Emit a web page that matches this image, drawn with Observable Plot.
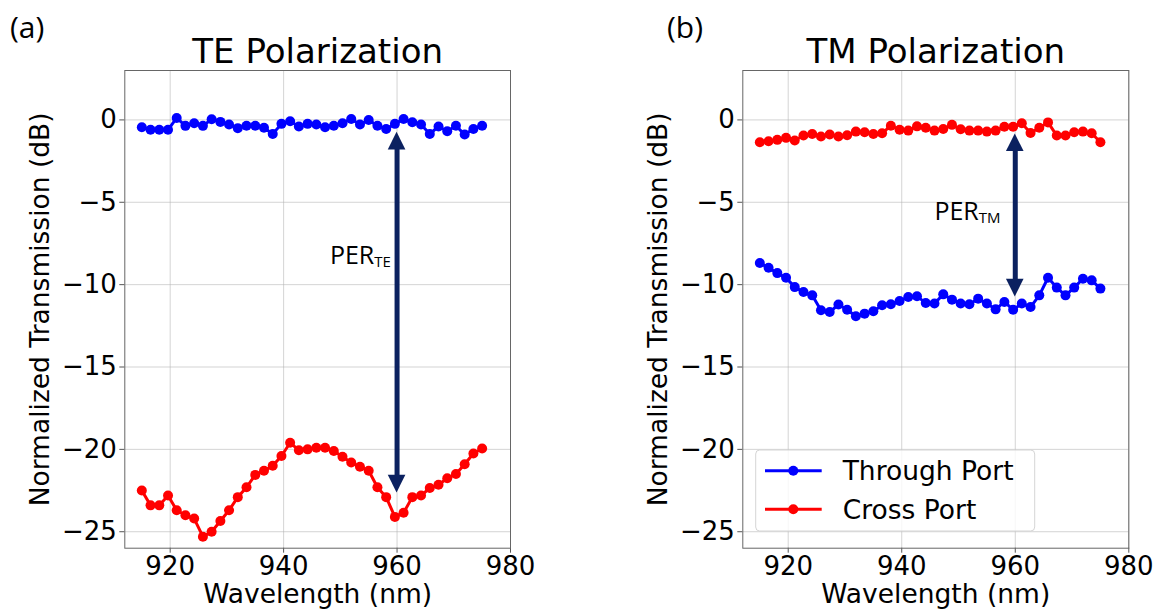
<!DOCTYPE html>
<html><head><meta charset="utf-8">
<script src="https://cdn.jsdelivr.net/npm/d3@7"></script>
<script src="https://cdn.jsdelivr.net/npm/@observablehq/plot@0.6"></script>
<style>
body{margin:0;background:#fff;}
#wrap{position:relative;width:1157px;height:611px;overflow:hidden;background:#fff;}
#wrap svg{position:absolute;top:0;overflow:visible;}
</style></head><body><div id="wrap"></div>
<script>
// ---- data ----
const wavelength = [915, 916.54, 918.08, 919.62, 921.15, 922.69, 924.23, 925.77, 927.31, 928.85,
  930.38, 931.92, 933.46, 935, 936.54, 938.08, 939.62, 941.15, 942.69, 944.23,
  945.77, 947.31, 948.85, 950.38, 951.92, 953.46, 955, 956.54, 958.08, 959.62,
  961.15, 962.69, 964.23, 965.77, 967.31, 968.85, 970.38, 971.92, 973.46, 975];
const teThrough = [-0.45, -0.6, -0.6, -0.6, 0.12, -0.36, -0.2, -0.36, 0.04, -0.12,
  -0.28, -0.5, -0.35, -0.35, -0.48, -0.85, -0.24, -0.08, -0.4, -0.24,
  -0.28, -0.45, -0.35, -0.2, 0.06, -0.28, 0.0, -0.35, -0.55, -0.24,
  0.06, -0.14, -0.28, -0.85, -0.4, -0.69, -0.35, -0.89, -0.55, -0.35];
const teCross = [-22.5, -23.4, -23.4, -22.8, -23.7, -24.0, -24.2, -25.3, -25.0, -24.35,
  -23.7, -22.9, -22.3, -21.55, -21.3, -21.0, -20.4, -19.6, -20.05, -20.0,
  -19.9, -19.9, -20.1, -20.45, -20.8, -21.05, -21.3, -22.3, -22.9, -24.1,
  -23.85, -22.9, -22.8, -22.35, -22.15, -21.75, -21.5, -20.9, -20.25, -19.95];
const tmThrough = [-8.69, -8.97, -9.3, -9.58, -10.15, -10.45, -10.65, -11.56, -11.66, -11.21,
  -11.52, -11.92, -11.76, -11.62, -11.25, -11.19, -10.99, -10.75, -10.71, -11.11,
  -11.15, -10.59, -10.91, -11.15, -11.19, -10.85, -11.15, -11.5, -11.05, -11.52,
  -11.15, -11.36, -10.65, -9.58, -10.18, -10.65, -10.18, -9.64, -9.74, -10.24];
const tmCross = [-1.36, -1.3, -1.21, -1.09, -1.25, -0.95, -0.85, -1.01, -0.89, -1.01,
  -0.93, -0.71, -0.75, -0.85, -0.81, -0.35, -0.6, -0.65, -0.39, -0.48,
  -0.65, -0.55, -0.3, -0.57, -0.65, -0.65, -0.71, -0.65, -0.41, -0.41,
  -0.2, -0.79, -0.48, -0.15, -0.95, -0.95, -0.75, -0.71, -0.81, -1.36];
const xTicks = [920, 940, 960, 980];
const yTicks = [0, -5, -10, -15, -20, -25];
const panelTitles = ["TE Polarization", "TM Polarization"];
const panelTags = ["(a)", "(b)"];
const seriesNames = ["Through Port", "Cross Port"];
const seriesColors = ["#0000ff", "#ff0000"];
const perLabels = [["PER", "TE"], ["PER", "TM"]];
const perArrows = [{x: 960, y1: -0.75, y2: -22.65}, {x: 960, y1: -0.85, y2: -10.75}];
const perTexts = [{x: 959, y: -8.8}, {x: 957.5, y: -6.1}];
const xLabel = "Wavelength (nm)";
const yLabel = "Normalized Transmission (dB)";

const FONT = "'DejaVu Sans', sans-serif";
const ARROW = "#0b2160";

function panel(idx, through, cross, W, ml, mr, left, withLegend) {
  const rows = s => wavelength.map((w, k) => ({w, v: s[k]}));
  const thr = rows(through), crs = rows(cross);
  const plot = Plot.plot({
    width: W, height: 611,
    marginLeft: ml, marginRight: mr, marginTop: 70, marginBottom: 63.3,
    style: {fontFamily: FONT, fontSize: "26px", color: "#000", background: "transparent", overflow: "visible"},
    x: {domain: [912, 980]},
    y: {domain: [-26, 3]},
    marks: [
      Plot.gridX(xTicks, {stroke: "#b0b0b0", strokeOpacity: 0.55, strokeWidth: 1}),
      Plot.gridY(yTicks, {stroke: "#b0b0b0", strokeOpacity: 0.55, strokeWidth: 1}),
      Plot.axisX(xTicks, {tickSize: 5, tickPadding: 3, label: null, fontSize: 26, stroke: "#555", tickFormat: d3.format("d")}),
      Plot.axisY(yTicks, {tickSize: 5, tickPadding: 3, label: null, fontSize: 26, stroke: "#555", tickFormat: d3.format("d")}),
      Plot.frame({stroke: "#666", strokeWidth: 1}),
      Plot.line(thr, {x: "w", y: "v", stroke: seriesColors[0], strokeWidth: 3}),
      Plot.dot(thr, {x: "w", y: "v", r: 5, fill: seriesColors[0], stroke: "none"}),
      Plot.line(crs, {x: "w", y: "v", stroke: seriesColors[1], strokeWidth: 3}),
      Plot.dot(crs, {x: "w", y: "v", r: 5, fill: seriesColors[1], stroke: "none"}),
      Plot.ruleX([perArrows[idx]], {x: "x", y1: "y1", y2: "y2", stroke: ARROW, strokeWidth: 5, insetTop: 15, insetBottom: 15}),
      Plot.text([panelTitles[idx]], {text: d => d, frameAnchor: "top", dy: -8, lineAnchor: "bottom", fontSize: 34}),
      Plot.text([xLabel], {text: d => d, frameAnchor: "bottom", dy: 55, lineAnchor: "bottom", fontSize: 26.5}),
      Plot.text([yLabel], {text: d => d, frameAnchor: "left", textAnchor: "middle", dx: -84, rotate: -90, lineAnchor: "middle", fontSize: 26.5})
    ]
  });
  plot.style.left = left + "px";
  const sx = plot.scale("x"), sy = plot.scale("y");
  const X = sx.apply ? sx.apply : d3.scaleLinear(sx.domain, sx.range);
  const Y = sy.apply ? sy.apply : d3.scaleLinear(sy.domain, sy.range);
  const svg = d3.select(plot);
  // arrow heads
  const a = perArrows[idx];
  const ax = X(a.x), ty = Y(a.y1), by = Y(a.y2), hw = 8.8, hl = 17.7;
  svg.append("polygon").attr("fill", ARROW)
    .attr("points", `${ax},${ty} ${ax - hw},${ty + hl} ${ax + hw},${ty + hl}`);
  svg.append("polygon").attr("fill", ARROW)
    .attr("points", `${ax},${by} ${ax - hw},${by - hl} ${ax + hw},${by - hl}`);
  // PER label with subscript
  const t = perTexts[idx];
  const txt = svg.append("text").attr("x", X(t.x)).attr("y", Y(t.y))
    .attr("text-anchor", "end").attr("font-family", "'Open Sans', 'Noto Sans', sans-serif").attr("fill", "#000");
  txt.append("tspan").attr("font-size", 25).text(perLabels[idx][0]);
  txt.append("tspan").attr("font-size", 15).attr("dy", 3).text(perLabels[idx][1]);
  // panel tag
  svg.append("text").attr("x", idx === 0 ? 10 : 89).attr("y", 38).attr("text-anchor", "start")
    .attr("font-family", "'Open Sans', 'Noto Sans', sans-serif").attr("font-size", 30).attr("fill", "#000")
    .text(panelTags[idx]);
  if (withLegend) {
    const lx = 177.7, ly = 450;
    svg.append("rect").attr("x", lx).attr("y", ly).attr("width", 279).attr("height", 81).attr("rx", 4)
      .attr("fill", "#fff").attr("fill-opacity", 0.8).attr("stroke", "#d5d5d5").attr("stroke-width", 1);
    const ys = [470.7, 509.3];
    seriesNames.forEach((name, k) => {
      svg.append("line").attr("x1", 187).attr("x2", 243.7).attr("y1", ys[k]).attr("y2", ys[k])
        .attr("stroke", seriesColors[k]).attr("stroke-width", 3);
      svg.append("circle").attr("cx", 215.3).attr("cy", ys[k]).attr("r", 5).attr("fill", seriesColors[k]);
      svg.append("text").attr("x", 264.7).attr("y", ys[k] + 9.5).attr("text-anchor", "start").attr("font-family", FONT)
        .attr("font-size", 26.5).attr("fill", "#000").text(name);
    });
  }
  document.getElementById("wrap").appendChild(plot);
}

panel(0, teThrough, teCross, 578, 124.3, 68, 0, false);
panel(1, tmThrough, tmCross, 579, 164.3, 28.7, 578, true);
</script>
</body></html>
